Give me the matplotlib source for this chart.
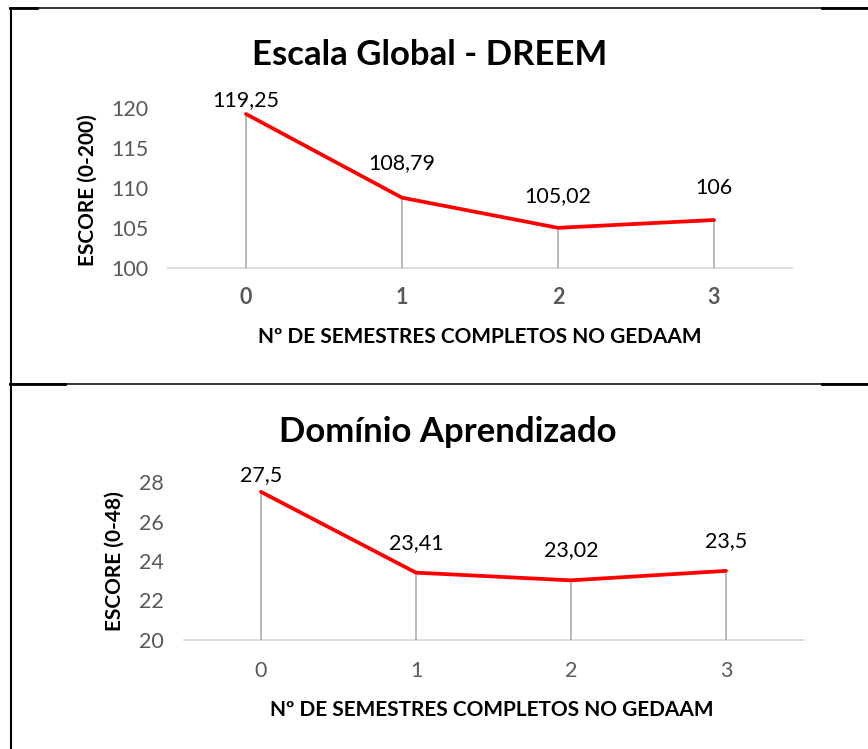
import matplotlib
matplotlib.use("Agg")
import matplotlib.pyplot as plt
from matplotlib.lines import Line2D

plt.rcParams['font.family'] = ['Lato', 'DejaVu Sans']

# ---- data ----
semesters = [0, 1, 2, 3]
tick_labels = ["0", "1", "2", "3"]
global_scores = [119.25, 108.79, 105.02, 106]
global_labels = ["119,25", "108,79", "105,02", "106"]
global_yticks = [100, 105, 110, 115, 120]
learn_scores = [27.5, 23.41, 23.02, 23.5]
learn_labels = ["27,5", "23,41", "23,02", "23,5"]
learn_yticks = [20, 22, 24, 26, 28]

title_top = "Escala Global - DREEM"
title_bottom = "Domínio Aprendizado"
xlabel = "Nº DE SEMESTRES COMPLETOS NO GEDAAM"
ylabel_top = "ESCORE (0-200)"
ylabel_bottom = "ESCORE (0-48)"

W, H = 868, 749
fig = plt.figure(figsize=(W / 100, H / 100), dpi=100)


def fx(px):
    return px / W


def fy(py):
    return 1 - py / H


def make_axes(left, right, top, bottom):
    return fig.add_axes([fx(left), fy(bottom), fx(right) - fx(left), (bottom - top) / H])


def draw_panel(ax, values, labels, yticks, bold_ticks, label_offsets, tick_pad):
    ax.plot(semesters, values, color='#FF0000', lw=2.7, solid_capstyle='round', zorder=3)
    ymin = yticks[0]
    ax.vlines(semesters, ymin, values, color='#A6A6A6', lw=1.1, zorder=2)
    ax.set_xlim(-0.5, 3.5)
    ax.set_ylim(yticks[0], yticks[-1])
    ax.set_yticks(yticks)
    ax.set_yticklabels([str(t) for t in yticks])
    ax.set_xticks(semesters)
    ax.set_xticklabels(tick_labels, fontweight='bold' if bold_ticks else 'normal')
    for s in ['top', 'right', 'left']:
        ax.spines[s].set_visible(False)
    ax.spines['bottom'].set_color('#D9D9D9')
    ax.spines['bottom'].set_linewidth(1.3)
    ax.spines['bottom'].set_zorder(1)
    ax.tick_params(axis='both', length=0, colors='#595959', labelsize=15.5)
    ax.tick_params(axis='y', pad=14)
    ax.tick_params(axis='x', pad=tick_pad)
    ax.patch.set_alpha(0)
    for xv, yv, lab, off in zip(semesters, values, labels, label_offsets):
        ax.annotate(lab, (xv, yv), xytext=(0, off), textcoords='offset pixels',
                    ha='center', va='center', fontsize=15.5, color='black',
                    annotation_clip=False)


# top panel
ax1 = make_axes(168, 792, 108, 268)
draw_panel(ax1, global_scores, global_labels, global_yticks, True, [14, 35, 32, 32], 14)

# bottom panel
ax2 = make_axes(183.5, 803.5, 482, 640)
draw_panel(ax2, learn_scores, learn_labels, learn_yticks, False, [17, 30, 30, 30], 15)

# titles and labels
fig.text(fx(430), fy(55), title_top, ha='center', va='center', fontsize=25, fontweight='bold')
fig.text(fx(448), fy(432), title_bottom, ha='center', va='center', fontsize=25, fontweight='bold')
fig.text(fx(480), fy(337), xlabel, ha='center', va='center', fontsize=15, fontweight='bold')
fig.text(fx(492), fy(710), xlabel, ha='center', va='center', fontsize=15, fontweight='bold')
fig.text(fx(88), fy(190), ylabel_top, ha='center', va='center', rotation=90, fontsize=15, fontweight='bold')
fig.text(fx(115), fy(561), ylabel_bottom, ha='center', va='center', rotation=90, fontsize=15, fontweight='bold')

# table borders
def hline(y, x0, x1, lw):
    fig.add_artist(Line2D([fx(x0), fx(x1)], [fy(y), fy(y)], color='black', lw=lw))

hline(8, 10, 868, 1.1)
hline(8, 10, 37, 2.0)
hline(8, 822, 868, 2.0)
hline(384, 10, 868, 1.1)
hline(384, 10, 65, 2.0)
hline(384, 822, 868, 2.0)
fig.add_artist(Line2D([fx(10.5), fx(10.5)], [fy(8), fy(749)], color='black', lw=1.5))

fig.savefig("out.png", dpi=100)
